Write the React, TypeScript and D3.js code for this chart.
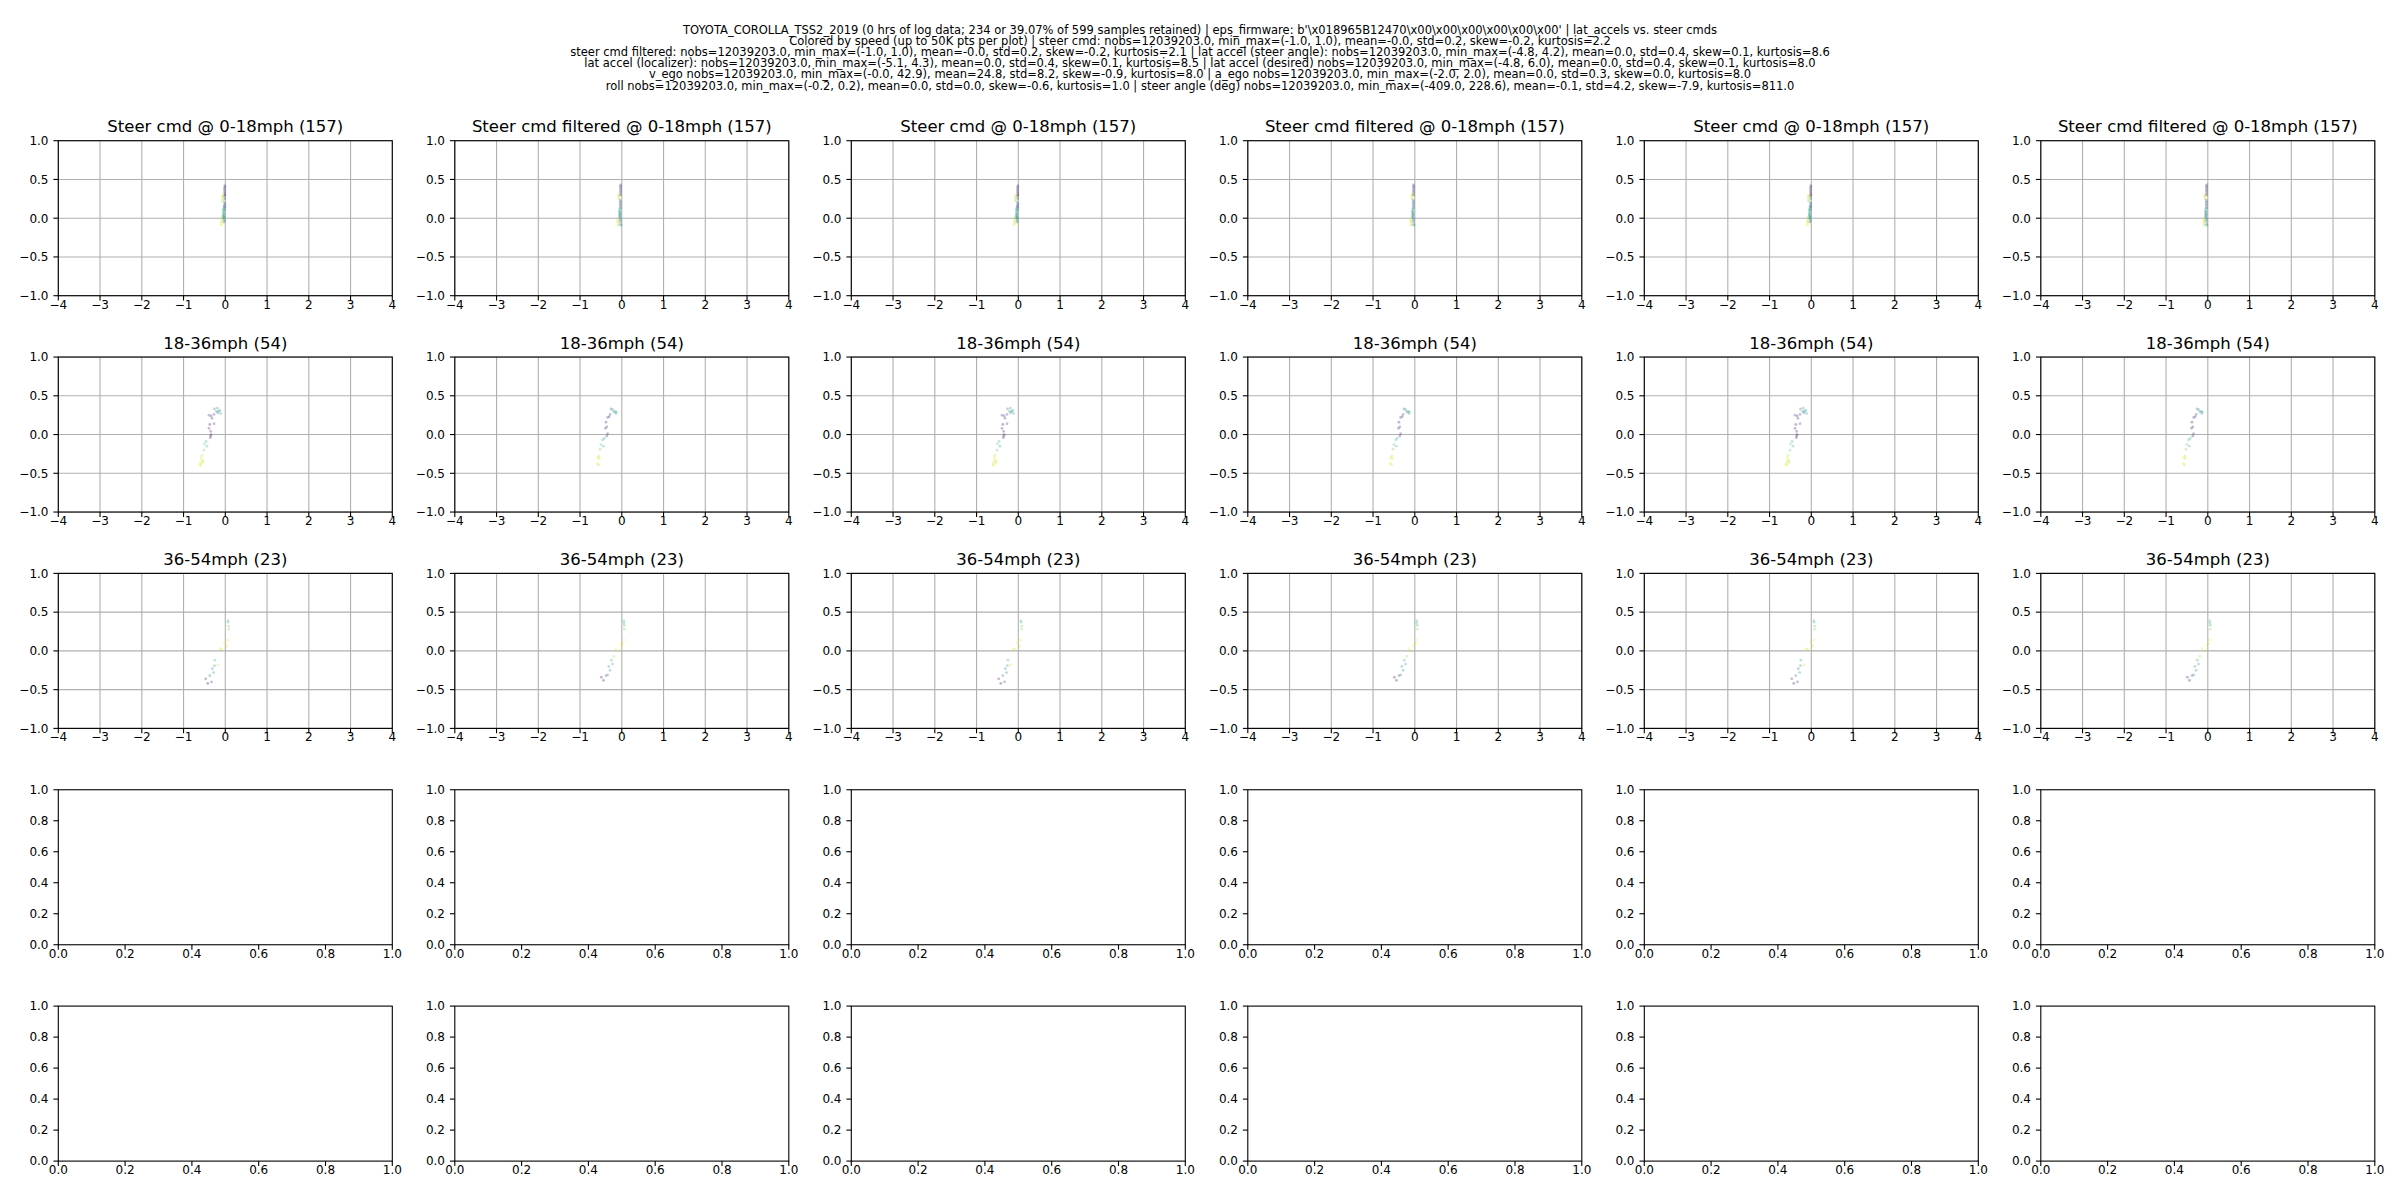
import * as d3 from 'd3';

const W = 2400;
const H = 1200;

const suptitleLines = [
  "TOYOTA_COROLLA_TSS2_2019 (0 hrs of log data; 234 or 39.07% of 599 samples retained) | eps_firmware: b'\\x018965B12470\\x00\\x00\\x00\\x00\\x00\\x00' | lat_accels vs. steer cmds",
  'Colored by  speed (up to 50K pts per plot) | steer cmd: nobs=12039203.0, min_max=(-1.0, 1.0), mean=-0.0, std=0.2, skew=-0.2, kurtosis=2.2',
  'steer cmd filtered: nobs=12039203.0, min_max=(-1.0, 1.0), mean=-0.0, std=0.2, skew=-0.2, kurtosis=2.1 | lat accel (steer angle): nobs=12039203.0, min_max=(-4.8, 4.2), mean=0.0, std=0.4, skew=0.1, kurtosis=8.6',
  'lat accel (localizer): nobs=12039203.0, min_max=(-5.1, 4.3), mean=0.0, std=0.4, skew=0.1, kurtosis=8.5 | lat accel (desired) nobs=12039203.0, min_max=(-4.8, 6.0), mean=0.0, std=0.4, skew=0.1, kurtosis=8.0',
  'v_ego nobs=12039203.0, min_max=(-0.0, 42.9), mean=24.8, std=8.2, skew=-0.9, kurtosis=8.0 | a_ego nobs=12039203.0, min_max=(-2.0, 2.0), mean=0.0, std=0.3, skew=0.0, kurtosis=8.0',
  'roll nobs=12039203.0, min_max=(-0.2, 0.2), mean=0.0, std=0.0, skew=-0.6, kurtosis=1.0 | steer angle (deg) nobs=12039203.0, min_max=(-409.0, 228.6), mean=-0.1, std=4.2, skew=-7.9, kurtosis=811.0',
];

const colSteer = ['Steer cmd', 'Steer cmd filtered', 'Steer cmd', 'Steer cmd filtered', 'Steer cmd', 'Steer cmd filtered'];
const speedBins = ['0-18mph (157)', '18-36mph (54)', '36-54mph (23)'];

const latTicks = [-4, -3, -2, -1, 0, 1, 2, 3, 4];
const steerTicks = [-1, -0.5, 0, 0.5, 1];
const emptyTicks = [0, 0.2, 0.4, 0.6, 0.8, 1];

// [lat accel, steer cmd, speed mph]
const bin1Cmd = [
  [-0.01, 0.42, 2], [-0.01, 0.4, 3], [-0.02, 0.38, 2], [-0.01, 0.36, 4], [-0.02, 0.34, 3], [-0.01, 0.32, 2],
  [-0.01, 0.25, 5], [-0.02, 0.28, 4],
  [-0.06, 0.3, 17], [-0.07, 0.28, 16], [-0.06, 0.26, 17], [-0.07, 0.24, 16], [-0.06, 0.22, 15],
  [-0.02, 0.2, 5], [-0.01, 0.18, 4], [-0.02, 0.16, 6], [-0.01, 0.14, 5], [-0.03, 0.15, 6], [-0.02, 0.12, 7], [-0.02, 0.1, 6],
  [-0.05, 0.12, 11], [-0.04, 0.1, 12], [-0.05, 0.08, 11], [-0.04, 0.06, 12], [-0.05, 0.04, 10], [-0.04, 0.02, 11], [-0.05, 0.0, 12],
  [-0.03, 0.06, 8], [-0.03, 0.03, 7], [-0.02, 0.01, 8], [-0.03, -0.01, 7], [-0.02, -0.03, 8], [-0.03, -0.05, 6],
  [-0.08, -0.01, 16], [-0.09, -0.03, 17], [-0.08, -0.05, 16], [-0.09, -0.07, 17], [-0.1, -0.09, 18], [-0.07, 0.02, 14],
  [-0.01, 0.3, 0],
];

const bin1Filt = [
  [-0.03, 0.43, 2], [-0.03, 0.41, 3], [-0.03, 0.39, 2], [-0.03, 0.37, 4], [-0.03, 0.35, 3], [-0.03, 0.33, 2],
  [-0.07, 0.31, 17], [-0.07, 0.29, 16], [-0.07, 0.27, 17], [-0.06, 0.25, 16],
  [-0.04, 0.23, 5], [-0.03, 0.21, 4], [-0.04, 0.19, 6], [-0.03, 0.17, 5], [-0.04, 0.15, 6], [-0.03, 0.13, 7],
  [-0.05, 0.12, 11], [-0.05, 0.1, 12], [-0.06, 0.08, 11], [-0.05, 0.06, 12], [-0.05, 0.04, 10], [-0.06, 0.02, 11],
  [-0.04, 0.08, 7], [-0.04, 0.05, 6], [-0.04, 0.02, 8], [-0.04, 0.0, 7], [-0.03, -0.02, 8], [-0.04, -0.04, 6],
  [-0.09, -0.01, 16], [-0.1, -0.03, 17], [-0.09, -0.05, 16], [-0.1, -0.07, 18], [-0.08, -0.09, 15],
  [-0.03, -0.07, 9], [-0.02, -0.09, 8], [-0.03, 0.3, 0],
];

const bin2Cmd = [
  [-0.26, 0.33, 24], [-0.19, 0.34, 27], [-0.16, 0.3, 28], [-0.11, 0.27, 28], [-0.21, 0.3, 26], [-0.13, 0.31, 27], [-0.18, 0.28, 25],
  [-0.27, 0.26, 21], [-0.34, 0.24, 20], [-0.39, 0.25, 21], [-0.32, 0.21, 20],
  [-0.37, 0.13, 18], [-0.27, 0.14, 20], [-0.39, 0.08, 19], [-0.35, 0.04, 19], [-0.35, -0.02, 19], [-0.36, -0.04, 20], [-0.34, 0.0, 19],
  [-0.46, -0.09, 30], [-0.5, -0.12, 31], [-0.44, -0.15, 29], [-0.51, -0.2, 31],
  [-0.56, -0.27, 34], [-0.58, -0.3, 35], [-0.54, -0.33, 35], [-0.59, -0.37, 35], [-0.53, -0.36, 34], [-0.58, -0.4, 36], [-0.61, -0.39, 35], [-0.57, -0.34, 35],
];

const bin2Filt = [
  [-0.26, 0.33, 24], [-0.22, 0.32, 25], [-0.16, 0.3, 27], [-0.14, 0.27, 28], [-0.19, 0.29, 27], [-0.13, 0.29, 28],
  [-0.28, 0.26, 21], [-0.34, 0.22, 20], [-0.3, 0.23, 20], [-0.38, 0.16, 18], [-0.36, 0.1, 19], [-0.39, 0.08, 19],
  [-0.34, 0.01, 20], [-0.36, -0.02, 19], [-0.42, -0.05, 29], [-0.46, -0.07, 30], [-0.5, -0.13, 31], [-0.44, -0.15, 30],
  [-0.52, -0.19, 32], [-0.55, -0.28, 34], [-0.58, -0.3, 35], [-0.54, -0.31, 35], [-0.59, -0.37, 36], [-0.56, -0.39, 34],
];

const bin3Cmd = [
  [0.06, 0.39, 48], [0.07, 0.37, 48], [0.08, 0.32, 49], [0.08, 0.28, 50], [0.06, 0.14, 53], [-0.02, 0.11, 53],
  [0.03, 0.06, 52], [-0.13, 0.03, 53], [-0.09, 0.02, 52], [-0.25, -0.12, 47], [-0.18, -0.18, 52], [-0.26, -0.19, 45],
  [-0.31, -0.23, 44], [-0.28, -0.28, 45], [-0.37, -0.32, 42], [-0.47, -0.36, 38], [-0.33, -0.4, 40], [-0.42, -0.42, 37],
];

const bin3Filt = [
  [0.05, 0.39, 48], [0.05, 0.36, 47], [0.06, 0.33, 48], [0.06, 0.28, 50], [0.05, 0.14, 53], [0.01, 0.09, 52],
  [-0.02, 0.07, 53], [-0.14, 0.03, 53], [-0.07, 0.0, 52], [-0.19, -0.07, 51], [-0.25, -0.12, 47], [-0.22, -0.17, 46],
  [-0.31, -0.2, 45], [-0.28, -0.25, 44], [-0.38, -0.32, 42], [-0.34, -0.31, 43], [-0.49, -0.34, 38], [-0.44, -0.38, 37],
];

const binData = [
  [bin1Cmd, bin1Filt],
  [bin2Cmd, bin2Filt],
  [bin3Cmd, bin3Filt],
];

// layout
const left0 = 58.3;
const colStep = 396.5;
const panelW = 334;
const top0 = 140.7;
const rowStep = 216.35;
const panelH = 155;
const font = 'DejaVu Sans';

const fmtTick = (t: number[]) => {
  const allInt = t.every((v) => Number.isInteger(v));
  return allInt ? d3.format('d') : d3.format('.1f');
};

function Panel({ x0, y0, xDomain, yDomain, xTicks, yTicks, grid, title, points }: any) {
  const x = d3.scaleLinear().domain(xDomain).range([0, panelW]);
  const y = d3.scaleLinear().domain(yDomain).range([panelH, 0]);
  const fx = fmtTick(xTicks);
  const fy = fmtTick(yTicks);
  const speeds = points ? points.map((p: number[]) => p[2]) : [0, 1];
  const color = d3.scaleSequential(d3.interpolateViridis).domain(d3.extent(speeds) as [number, number]);

  return (
    <g transform={`translate(${x0},${y0})`}>
      {grid && (
        <g stroke="#b0b0b0" strokeWidth={1.1}>
          {xTicks.map((t: number) => (
            <line key={'gx' + t} x1={x(t)} x2={x(t)} y1={0} y2={panelH} />
          ))}
          {yTicks.map((t: number) => (
            <line key={'gy' + t} x1={0} x2={panelW} y1={y(t)} y2={y(t)} />
          ))}
        </g>
      )}
      {points && (
        <g>
          {points.map((p: number[], i: number) => (
            <circle key={i} cx={x(p[0])} cy={y(p[1])} r={1.4} fill={color(p[2])} fillOpacity={0.3} />
          ))}
        </g>
      )}
      <rect x={0} y={0} width={panelW} height={panelH} fill="none" stroke="#000" strokeWidth={1.1} />
      <g fontFamily={font} fontSize={12} fill="#000">
        {xTicks.map((t: number) => (
          <g key={'tx' + t}>
            <line x1={x(t)} x2={x(t)} y1={panelH} y2={panelH + 4.9} stroke="#000" strokeWidth={1.1} />
            <text x={x(t)} y={panelH + 13} textAnchor="middle">
              {fx(t)}
            </text>
          </g>
        ))}
        {yTicks.map((t: number) => (
          <g key={'ty' + t}>
            <line x1={-4.9} x2={0} y1={y(t)} y2={y(t)} stroke="#000" strokeWidth={1.1} />
            <text x={-9.8} y={y(t)} dy="0.36em" textAnchor="end">
              {fy(t)}
            </text>
          </g>
        ))}
      </g>
      {title && (
        <text x={panelW / 2} y={-8.5} textAnchor="middle" fontFamily={font} fontSize={16.5} fill="#000">
          {title}
        </text>
      )}
    </g>
  );
}

export default function App() {
  const panels: any[] = [];
  for (let r = 0; r < 5; r++) {
    for (let c = 0; c < 6; c++) {
      const x0 = left0 + c * colStep;
      const y0 = top0 + r * rowStep;
      if (r < 3) {
        const title = r === 0 ? `${colSteer[c]} @ ${speedBins[r]}` : speedBins[r];
        panels.push(
          <Panel
            key={`${r}-${c}`}
            x0={x0}
            y0={y0}
            xDomain={[-4, 4]}
            yDomain={[-1, 1]}
            xTicks={latTicks}
            yTicks={steerTicks}
            grid
            title={title}
            points={binData[r][c % 2]}
          />
        );
      } else {
        panels.push(
          <Panel
            key={`${r}-${c}`}
            x0={x0}
            y0={y0}
            xDomain={[0, 1]}
            yDomain={[0, 1]}
            xTicks={emptyTicks}
            yTicks={emptyTicks}
            grid={false}
          />
        );
      }
    }
  }

  return (
    <svg width={W} height={H} style={{ position: 'absolute', left: 0, top: 0, background: '#fff' }}>
      <rect width={W} height={H} fill="#fff" />
      <g fontFamily={font} fontSize={11.5} fill="#000" textAnchor="middle" style={{ whiteSpace: 'pre' }}>
        {suptitleLines.map((line, i) => (
          <text key={i} x={W / 2} y={34 + i * 11.1}>
            {line}
          </text>
        ))}
      </g>
      {panels}
    </svg>
  );
}
